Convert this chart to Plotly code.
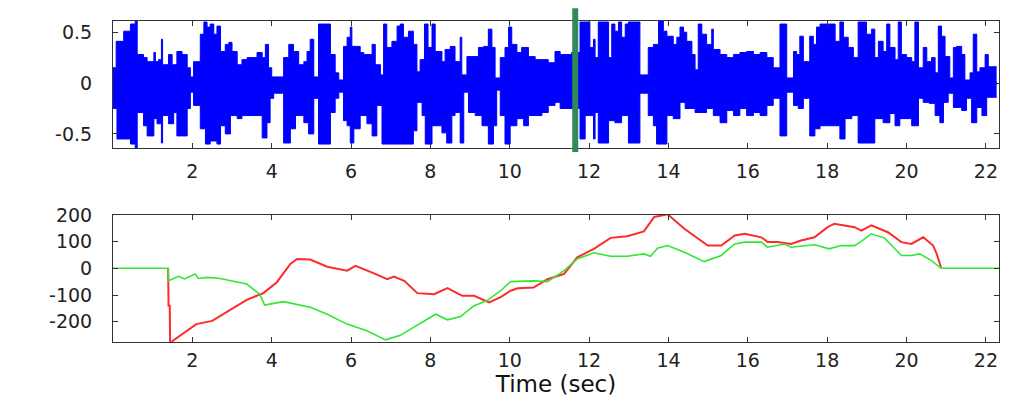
import plotly.graph_objects as go
from plotly.subplots import make_subplots

# ---------------- data ----------------
# upper envelope of waveform: segment start times and amplitude
wave_hi_t = [0.00, 0.08, 0.27, 0.44, 0.56, 0.61, 0.77, 0.86, 1.03, 1.07, 1.15, 1.22, 1.25, 1.40, 1.49,
             1.61, 1.74, 1.87, 1.95, 2.03, 2.20, 2.29, 2.37, 2.45, 2.54, 2.62, 2.71, 2.83, 2.92, 3.00,
             3.13, 3.25, 3.38, 3.63, 3.76, 3.84, 3.92, 4.00, 4.30, 4.43, 4.55, 4.68, 4.81, 4.89, 4.97,
             5.06, 5.18, 5.48,
             5.60, 5.69, 5.81, 5.90, 5.98, 6.02, 6.23, 6.32, 6.53, 6.61, 6.74, 6.82, 6.90, 7.03, 7.16,
             7.24, 7.32, 7.45, 7.57, 7.66, 7.74, 7.85, 7.94, 8.04, 8.12, 8.29, 8.37, 8.50, 8.62, 8.75,
             8.79, 8.92, 9.21, 9.34, 9.46, 9.55, 9.63, 9.76, 9.88, 9.97, 10.05, 10.18, 10.30, 10.47,
             10.64, 10.97, 11.14, 11.27,
             11.56, 11.77, 12.02, 12.11, 12.15, 12.23, 12.49, 12.57, 12.65, 12.74, 12.82, 12.91, 12.99,
             13.28, 13.49, 13.62, 13.75, 13.87, 13.96, 14.12, 14.21, 14.29, 14.38, 14.46, 14.59, 14.67,
             14.75, 14.84, 14.96, 15.09, 15.13, 15.30, 15.47, 15.64, 15.80, 15.97, 16.14, 16.31, 16.48,
             16.64, 16.81,
             16.98, 17.15, 17.23, 17.31, 17.40, 17.56, 17.65, 17.73, 17.82, 18.20, 18.32, 18.41, 18.53,
             18.66, 18.78, 18.99, 19.12, 19.20, 19.29, 19.41, 19.50, 19.58, 19.71, 19.79, 19.87, 20.00,
             20.13, 20.21, 20.30, 20.42, 20.51, 20.63, 20.72, 20.80, 20.88, 20.97, 21.09, 21.18, 21.26,
             21.39, 21.47, 21.60, 21.68, 21.77, 21.85, 21.98, 22.06, 22.27]
wave_hi = [0.15, 0.41, 0.51, 0.58, 0.61, 0.28, 0.25, 0.21, 0.30, 0.21, 0.23, 0.43, 0.18, 0.28, 0.18,
           0.31, 0.28, 0.15, 0.06, 0.21, 0.48, 0.60, 0.55, 0.58, 0.48, 0.56, 0.31, 0.38, 0.40, 0.31,
           0.18, 0.23, 0.25, 0.30, 0.25, 0.38, 0.15, 0.06, 0.25, 0.38, 0.31, 0.18, 0.21, 0.31, 0.43,
           0.06, 0.58, 0.28,
           0.10, 0.03, 0.36, 0.45, 0.55, 0.36, 0.30, 0.28, 0.38, 0.18, 0.08, 0.58, 0.35, 0.41, 0.56,
           0.58, 0.45, 0.51, 0.38, 0.11, 0.23, 0.58, 0.35, 0.58, 0.31, 0.21, 0.33, 0.36, 0.21, 0.45,
           0.08, 0.26, 0.35, 0.36, 0.53, 0.35, 0.05, 0.25, 0.35, 0.55, 0.38, 0.30, 0.35, 0.26,
           0.23, 0.20, 0.31, 0.28,
           0.30, 0.60, 0.35, 0.43, 0.25, 0.60, 0.25, 0.58, 0.51, 0.60, 0.45, 0.58, 0.60,
           0.08, 0.35, 0.38, 0.61, 0.51, 0.46, 0.38, 0.45, 0.55, 0.50, 0.41, 0.28, 0.13,
           0.58, 0.48, 0.38, 0.53, 0.33, 0.28, 0.25, 0.28, 0.30, 0.31, 0.28, 0.30, 0.25,
           0.15, 0.58,
           0.05, 0.31, 0.28, 0.46, 0.21, 0.46, 0.38, 0.55, 0.58, 0.41, 0.60, 0.45, 0.35,
           0.25, 0.60, 0.48, 0.53, 0.25, 0.41, 0.31, 0.58, 0.35, 0.23, 0.60, 0.28, 0.25,
           0.21, 0.60, 0.15, 0.35, 0.21, 0.25, 0.10, 0.56, 0.46, 0.26, 0.05, 0.35, 0.36,
           0.28, 0.03, 0.10, 0.48, 0.11, 0.15, 0.28, 0.16, 0.16]

# lower envelope of waveform
wave_lo_t = [0.00, 0.10, 0.44, 0.56, 0.61, 0.77, 0.86, 1.03, 1.11, 1.22, 1.25, 1.40, 1.53, 1.61, 1.87,
             1.95, 2.03, 2.20, 2.33, 2.45, 2.62, 2.71, 2.83, 2.96, 3.13, 3.25, 3.76, 3.88, 3.96, 4.05,
             4.30, 4.47, 4.60, 4.81, 4.93, 5.06, 5.18, 5.48,
             5.60, 5.69, 5.81, 5.90, 5.98, 6.07, 6.23, 6.40, 6.53, 6.65, 6.78, 7.57, 7.66, 7.79, 7.87,
             8.04, 8.29, 8.41, 8.54, 8.62, 8.75, 8.84, 8.96, 9.13, 9.30, 9.46, 9.59, 9.67, 9.76, 9.88,
             10.01, 10.18, 10.35, 10.47, 10.81, 10.97, 11.14,
             11.27, 11.77, 11.90, 12.11, 12.15, 12.23, 12.49, 12.65, 12.82, 12.99, 13.28, 13.49, 13.62,
             13.70, 13.96, 14.12, 14.29, 14.42, 14.67, 14.96, 15.13, 15.30, 15.47, 15.64, 15.80, 15.97,
             16.14, 16.31, 16.48, 16.64, 16.81,
             16.98, 17.15, 17.27, 17.40, 17.56, 17.69, 17.82, 18.32, 18.45, 18.62, 18.78, 19.20, 19.41,
             19.58, 19.71, 19.83, 20.13, 20.30, 20.42, 20.57, 20.72, 20.84, 20.93, 21.05, 21.18, 21.39,
             21.51, 21.64, 21.77, 21.90, 22.02, 22.27]
wave_lo = [-0.25, -0.55, -0.60, -0.64, -0.29, -0.42, -0.52, -0.35, -0.40, -0.59, -0.32, -0.40, -0.29, -0.52, -0.25,
           -0.09, -0.22, -0.45, -0.60, -0.57, -0.60, -0.42, -0.50, -0.32, -0.35, -0.32, -0.54, -0.39, -0.15, -0.10,
           -0.59, -0.45, -0.32, -0.39, -0.50, -0.15, -0.60, -0.29,
           -0.15, -0.09, -0.37, -0.42, -0.59, -0.45, -0.32, -0.40, -0.52, -0.22, -0.60, -0.47, -0.19, -0.32, -0.60,
           -0.42, -0.49, -0.59, -0.32, -0.29, -0.59, -0.09, -0.29, -0.32, -0.42, -0.60, -0.42, -0.07, -0.32, -0.60,
           -0.42, -0.35, -0.42, -0.32, -0.29, -0.22, -0.19,
           -0.25, -0.55, -0.32, -0.55, -0.29, -0.59, -0.37, -0.39, -0.32, -0.59, -0.10, -0.32, -0.42,
           -0.60, -0.32, -0.35, -0.19, -0.25, -0.29, -0.25, -0.32, -0.39, -0.27, -0.32, -0.25, -0.32,
           -0.29, -0.32, -0.22, -0.15, -0.52,
           -0.09, -0.22, -0.25, -0.15, -0.52, -0.45, -0.42, -0.55, -0.35, -0.32, -0.59, -0.35, -0.39,
           -0.30, -0.42, -0.35, -0.42, -0.15, -0.19, -0.20, -0.32, -0.39, -0.19, -0.10, -0.24, -0.27,
           -0.15, -0.39, -0.24, -0.32, -0.14, -0.14]

marker_time = 11.65

# red track (defined from its onset to its end)
red_t = [1.39, 1.40, 1.43, 1.44, 1.52, 1.86, 2.1, 2.5, 3.0, 3.37, 3.79, 4.13, 4.47, 4.64, 4.97,
         5.4, 5.9, 6.11, 6.58, 6.91, 7.08, 7.34, 7.67, 8.09, 8.43, 8.8, 9.1, 9.48, 9.77, 10.02,
         10.2, 10.6, 10.95, 11.37, 11.7, 12.12, 12.54, 12.96, 13.38, 13.64, 13.98, 14.4, 14.99,
         15.33, 15.67, 15.92, 16.34, 16.5, 16.75, 17.09, 17.34, 17.68, 18.01, 18.18, 18.69, 18.86,
         19.11, 19.53, 19.87, 20.12, 20.42, 20.67, 20.76, 20.87]
red_v = [0, -140, -140, -285, -270, -234, -209, -197, -150, -118, -93, -52, 16, 35, 33,
         6, -9, 9, -19, -41, -31, -47, -93, -97, -74, -103, -103, -128, -108, -84,
         -75, -72, -41, -21, 41, 73, 114, 120, 138, 192, 202, 148, 85,
         85, 123, 129, 116, 98, 98, 91, 104, 116, 154, 167, 154, 141,
         161, 135, 98, 91, 116, 85, 54, 2]

green_t = [0, 1.39, 1.40, 1.5, 1.65, 1.8, 2.07, 2.15, 2.39, 2.7, 3.04, 3.37, 3.7, 3.82, 4.3, 4.97,
           5.4, 5.9, 6.4, 6.87, 7.24, 7.58, 8.13, 8.43, 8.76, 9.1, 9.43, 9.77, 10.02, 10.6, 10.95,
           11.37, 11.7, 12.12, 12.54, 12.96, 13.38, 13.55, 13.72, 13.98, 14.4, 14.9, 15.33, 15.67,
           15.92, 16.34, 16.5, 16.92, 17.09, 17.68, 18.05, 18.35, 18.69, 18.86, 19.11, 19.44, 19.87,
           20.12, 20.33, 20.63, 20.87, 22.33]
green_v = [0, 0, -47, -40, -30, -40, -21, -38, -34, -38, -49, -59, -97, -138, -125, -146,
           -172, -209, -234, -268, -251, -222, -172, -193, -181, -140, -121, -84, -50, -47, -50,
           -9, 35, 58, 45, 45, 54, 45, 75, 85, 60, 25, 48, 91,
           98, 98, 79, 91, 79, 88, 73, 85, 85, 101, 129, 114, 48,
           48, 54, 29, 0, 0]

x_ticks = [2, 4, 6, 8, 10, 12, 14, 16, 18, 20, 22]
top_y_ticks = [-0.5, 0, 0.5]
top_y_labels = ["-0.5", "0", "0.5"]
bot_y_ticks = [-200, -100, 0, 100, 200]
bot_y_labels = ["-200", "-100", "0", "100", "200"]

# ---------------- figure ----------------
fig = make_subplots(rows=2, cols=1, shared_xaxes=False, vertical_spacing=0.208)

blue = "#0000ff"
fig.add_trace(go.Scatter(x=wave_hi_t, y=wave_hi, mode="lines", line=dict(color=blue, width=1, shape="hv"),
                         fill="tozeroy", fillcolor=blue, showlegend=False, hoverinfo="skip"), row=1, col=1)
fig.add_trace(go.Scatter(x=wave_lo_t, y=wave_lo, mode="lines", line=dict(color=blue, width=1, shape="hv"),
                         fill="tozeroy", fillcolor=blue, showlegend=False, hoverinfo="skip"), row=1, col=1)
# close the seam where the two filled halves meet at zero
fig.add_shape(type="line", xref="x", yref="y", x0=wave_hi_t[0], x1=wave_hi_t[-1], y0=0, y1=0,
              line=dict(color=blue, width=4), layer="above")

fig.add_trace(go.Scatter(x=red_t, y=red_v, mode="lines", line=dict(color="#ff2a2a", width=2),
                         showlegend=False), row=2, col=1)
fig.add_trace(go.Scatter(x=green_t, y=green_v, mode="lines", line=dict(color="#33e633", width=1.6),
                         showlegend=False), row=2, col=1)

font_family = "DejaVu Sans, Verdana, sans-serif"
tick_font = dict(family=font_family, size=19, color="#222")
axis_common = dict(showgrid=False, zeroline=False, showline=True, linecolor="#333", linewidth=1,
                   mirror="ticks", ticks="inside", ticklen=5, tickcolor="#333", tickfont=tick_font,
                   automargin=False)

fig.update_xaxes(range=[0, 22.33], tickvals=x_ticks, **axis_common)
fig.update_yaxes(ticklabelstandoff=16, **axis_common)
fig.update_xaxes(ticklabelstandoff=6, row=1, col=1)
fig.update_xaxes(ticklabelstandoff=1, row=2, col=1)
fig.update_yaxes(range=[-0.64, 0.61], tickvals=top_y_ticks, ticktext=top_y_labels, row=1, col=1)
fig.update_yaxes(range=[-276, 200], tickvals=bot_y_ticks, ticktext=bot_y_labels, row=2, col=1)
fig.update_xaxes(title=dict(text="Time (sec)", font=dict(family=font_family, size=23, color="#111"),
                            standoff=4), row=2, col=1)

# the page body adds an 8 px offset, so the figure is sized to fit the window
fig.update_layout(
    width=1008, height=395,
    margin=dict(l=105, r=17, t=13, b=61),
    paper_bgcolor="white", plot_bgcolor="white",
    showlegend=False,
)
fig.update_yaxes(domain=[0.604, 1.0], row=1, col=1)
fig.update_yaxes(domain=[0.0, 0.396], row=2, col=1)

# green position marker in the top panel
fig.add_shape(type="line", xref="x", yref="y domain", x0=marker_time, x1=marker_time, y0=-0.03, y1=1.10,
              line=dict(color="#2e8b57", width=6), layer="above")

fig.write_html("out.html")
